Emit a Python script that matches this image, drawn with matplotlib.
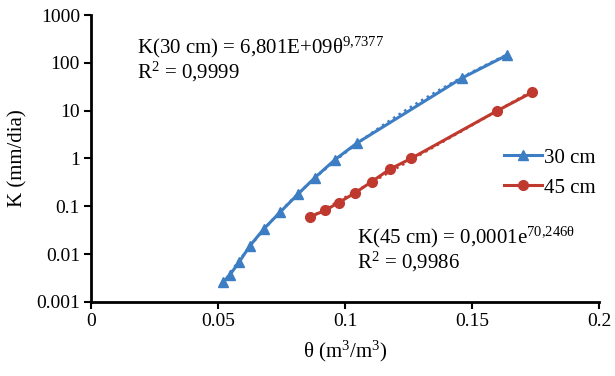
import numpy as np
import matplotlib
matplotlib.use("Agg")
import matplotlib.pyplot as plt

plt.rcParams['font.family'] = ['Liberation Serif', 'DejaVu Serif']
plt.rcParams['mathtext.fontset'] = 'custom'
plt.rcParams['mathtext.rm'] = 'Liberation Serif'
plt.rcParams['mathtext.it'] = 'Liberation Serif'

# theta (m3/m3) and K (mm/dia)
theta_30 = [0.052, 0.0547, 0.0583, 0.0626, 0.0681, 0.0744, 0.0815, 0.0882,
            0.0961, 0.1047, 0.146, 0.1638]
k_30 = [0.0026, 0.0037, 0.0068, 0.015, 0.034, 0.075, 0.18, 0.40,
        0.95, 2.1, 48, 145]

theta_45 = [0.0862, 0.0921, 0.0976, 0.1039, 0.1106, 0.1177, 0.126, 0.160, 0.1736]
k_45 = [0.060, 0.082, 0.12, 0.19, 0.33, 0.60, 1.0, 10.0, 24.0]

blue = '#3d7dc3'
red = '#c0392f'

fig = plt.figure(figsize=(6.15, 3.76), dpi=100)
ax = fig.add_axes([0.148, 0.197, 0.826, 0.763])

# trendlines (power for 30 cm, exponential for 45 cm), fitted like Excel does
t30 = np.array(theta_30)
p30 = np.polyfit(np.log(t30), np.log(k_30), 1)
x30 = np.linspace(t30.min(), t30.max(), 100)
ax.plot(x30, np.exp(p30[1]) * x30 ** p30[0], ':', color=blue, lw=1.8, zorder=2)

t45 = np.array(theta_45)
p45 = np.polyfit(t45, np.log(k_45), 1)
x45 = np.linspace(t45.min(), t45.max(), 100)
ax.plot(x45, np.exp(p45[1] + p45[0] * x45), ':', color=red, lw=1.8, zorder=2)

ax.plot(theta_30, k_30, color=blue, marker='^', ms=7.5, lw=2.2, label='30 cm', zorder=3)
ax.plot(theta_45, k_45, color=red, marker='o', ms=7, lw=2.2, label='45 cm', zorder=3)

ax.set_yscale('log')
ax.set_xlim(0, 0.2)
ax.set_ylim(0.001, 1000)
ax.set_xticks([0, 0.05, 0.1, 0.15, 0.2])
ax.set_xticklabels(['0', '0.05', '0.1', '0.15', '0.2'])
ax.set_yticks([0.001, 0.01, 0.1, 1, 10, 100, 1000])
ax.set_yticklabels(['0.001', '0.01', '0.1', '1', '10', '100', '1000'])
ax.minorticks_off()
ax.tick_params(labelsize=14, width=1.5, length=5, direction='out', pad=3)

for s in ['top', 'right']:
    ax.spines[s].set_visible(False)
for s in ['left', 'bottom']:
    ax.spines[s].set_linewidth(2)

ax.set_xlabel('θ (m$^{3}$/m$^{3}$)', fontsize=15, labelpad=6)
ax.set_ylabel('K (mm/dia)', fontsize=15, labelpad=6)

ax.text(0.09, 0.93, 'K(30 cm) = 6,801E+09θ$^{9{,}7377}$\nR$^{2}$ = 0,9999',
        transform=ax.transAxes, fontsize=15, va='top', linespacing=1.0)
ax.text(0.523, 0.27, 'K(45 cm) = 0,0001e$^{70{,}246θ}$\nR$^{2}$ = 0,9986',
        transform=ax.transAxes, fontsize=15, va='top', linespacing=1.0)

ax.legend(loc='center right', bbox_to_anchor=(1.03, 0.45), frameon=False,
          fontsize=15, handlelength=1.8, handletextpad=0.1, labelspacing=0.5)

fig.savefig('out.png', dpi=100)
